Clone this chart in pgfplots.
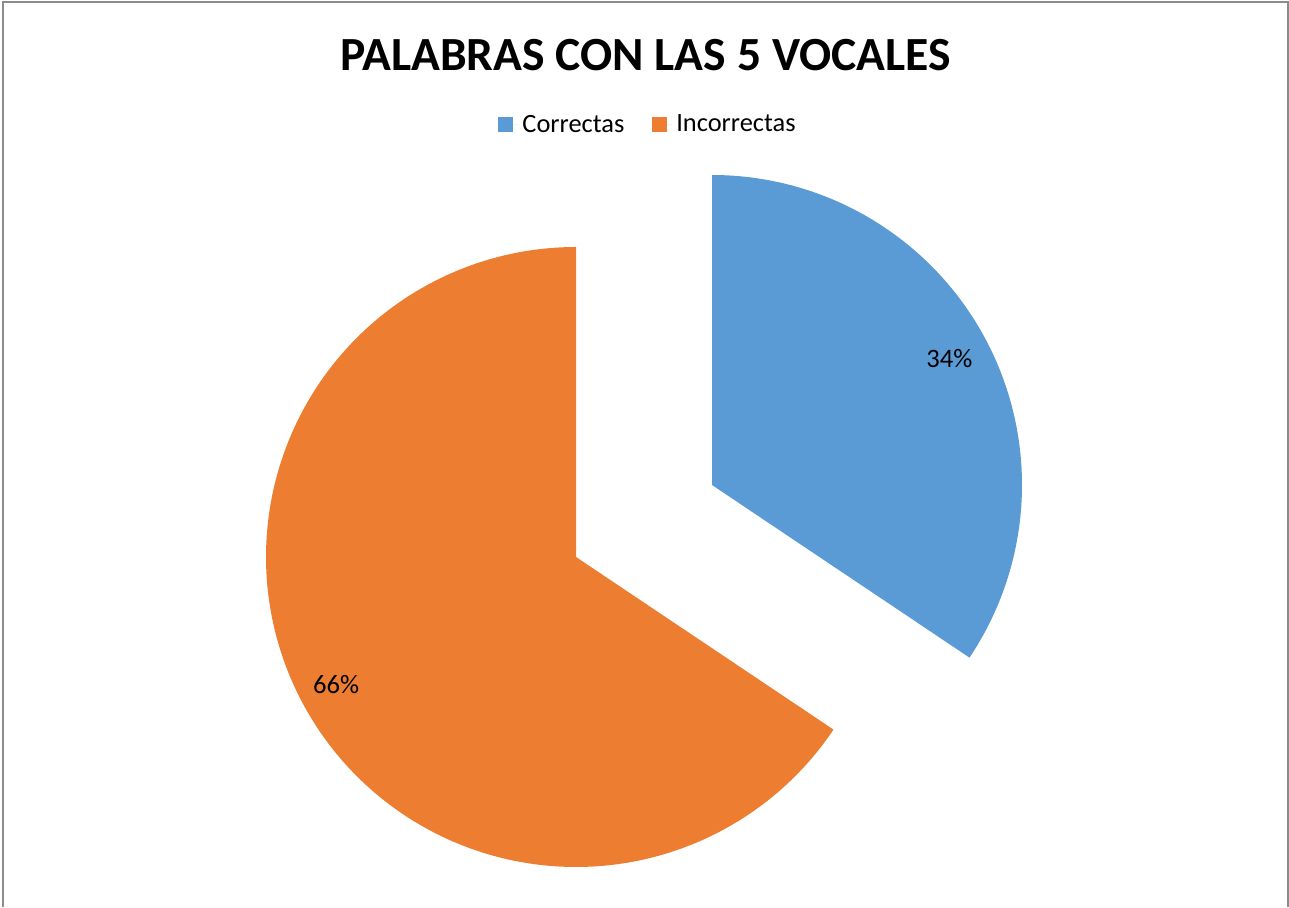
\documentclass[border=0pt]{standalone}
\usepackage{pgfplots}
\usepackage{pgfplotstable}
\pgfplotsset{compat=1.18}
\usepackage{fontspec}
\setmainfont{Carlito}
\definecolor{pieblue}{HTML}{5B9BD5}
\definecolor{pieorange}{HTML}{ED7D31}
\definecolor{framegray}{HTML}{8C8C8C}
\pgfplotstableread{
label value
Correctas 34.4
Incorrectas 65.6
}\piedata
\pgfplotstablegetelem{0}{value}\of\piedata \let\va\pgfplotsretval
\pgfplotstablegetelem{1}{value}\of\piedata \let\vb\pgfplotsretval
\pgfmathsetmacro{\aStart}{90-3.6*\va}
\pgfmathsetmacro{\bEnd}{90+3.6*\vb}
\pgfmathsetmacro{\aMid}{90-1.8*\va}
\pgfmathsetmacro{\bMid}{90+1.8*\vb}
\begin{document}
\begin{tikzpicture}
\begin{axis}[
  scale only axis, width=644.5pt, height=453.5pt,
  xmin=0, xmax=1289, ymin=0, ymax=907,
  hide axis, clip=false,
  legend columns=2,
  legend style={at={(axis cs:649,782)}, anchor=center, draw=none, fill=none,
    font=\fontsize{13.2}{15}\selectfont, inner sep=0pt,
    /tikz/every even column/.append style={column sep=12pt}},
  legend image code/.code={\fill[#1] (0pt,-3.75pt) rectangle (7.5pt,3.75pt);
    \path (0pt,0pt) -- (10pt,0pt);},
]
\path (axis cs:0,0) rectangle (axis cs:1289,907);
\draw[framegray, line width=1pt] (axis cs:2.5,0) |- (axis cs:1287.5,904.5) -- (axis cs:1287.5,0);
\addplot[fill=pieblue, draw=none, domain=\aStart:90, samples=150]
  ({712+310*cos(x)}, {422+310*sin(x)}) -- (axis cs:712,422) -- cycle;
\addlegendentry{Correctas}
\addplot[fill=pieorange, draw=none, domain=90:\bEnd, samples=250]
  ({576+310*cos(x)}, {350+310*sin(x)}) -- (axis cs:576,350) -- cycle;
\addlegendentry{Incorrectas}
\node[font=\fontsize{13.3}{15}\selectfont] at (axis cs:{712+269*cos(\aMid)},{422+269*sin(\aMid)}) {34\%};
\node[font=\fontsize{13.3}{15}\selectfont] at (axis cs:{576+272*cos(\bMid)},{350+272*sin(\bMid)}) {66\%};
\node[font=\bfseries\fontsize{23.8}{28}\selectfont] at (axis cs:645.5,852) {PALABRAS CON LAS 5 VOCALES};
\end{axis}
\end{tikzpicture}
\end{document}
